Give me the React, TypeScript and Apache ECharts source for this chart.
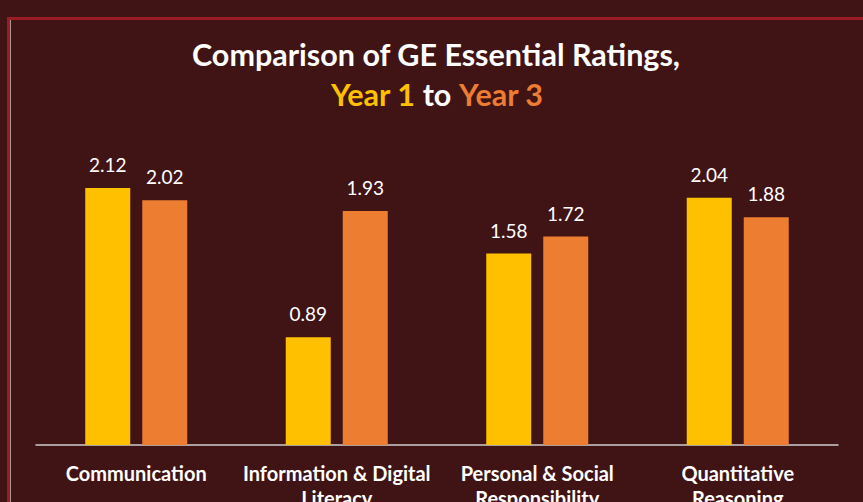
import React, { useEffect, useRef } from "react";
import * as echarts from "echarts";

const categories = [
  "Information & Digital\nLiteracy",
  "Personal & Social\nResponsibility",
  "Quantitative\nReasoning",
];
const allCategories = ["Communication", ...categories];
const year1 = [2.12, 0.89, 1.58, 2.04];
const year3 = [2.02, 1.93, 1.72, 1.88];
const seriesNames = ["Year 1", "Year 3"];
const titleLine1 = "Comparison of GE Essential Ratings,";

const BG = "#401415";
const YELLOW = "#FFC000";
const ORANGE = "#ED7D31";

export default function App() {
  const ref = useRef<HTMLDivElement>(null);
  useEffect(() => {
    const chart = echarts.init(ref.current!, null, { renderer: "svg" });
    const labelCfg = {
      show: true,
      position: "top",
      distance: 14,
      color: "#ffffff",
      fontFamily: "Lato",
      fontSize: 19,
    };
    chart.setOption({
      animation: false,
      backgroundColor: BG,
      grid: {
        left: 36,
        right: 25,
        top: 142,
        bottom: 57,
        containLabel: false,
        outerBoundsMode: "none",
      },
      xAxis: {
        type: "category",
        data: allCategories,
        axisLine: { show: true, lineStyle: { color: "#d0cccc", width: 1.5 } },
        axisTick: { show: false },
        axisLabel: {
          color: "#ffffff",
          fontFamily: "Lato",
          fontWeight: "bold",
          fontSize: 20,
          lineHeight: 25,
          margin: 15,
          interval: 0,
        },
      },
      yAxis: {
        type: "value",
        min: 0,
        max: 2.5,
        show: false,
        splitLine: { show: false },
      },
      series: [
        {
          name: seriesNames[0],
          type: "bar",
          data: year1,
          barWidth: 45,
          barGap: "26.7%",
          itemStyle: { color: YELLOW },
          label: labelCfg,
        },
        {
          name: seriesNames[1],
          type: "bar",
          data: year3,
          barWidth: 45,
          itemStyle: { color: ORANGE },
          label: labelCfg,
        },
      ],
      graphic: [
        { type: "rect", shape: { x: 7, y: 17, width: 870, height: 3 }, style: { fill: "#9b1c24" }, silent: true },
        { type: "rect", shape: { x: 7, y: 17, width: 3, height: 500 }, style: { fill: "#9b1c24" }, silent: true },
        { type: "rect", shape: { x: 10, y: 20, width: 1, height: 500 }, style: { fill: "#a89a9a" }, silent: true },
        {
          type: "text",
          x: 436,
          y: 54,
          style: {
            text: titleLine1,
            fill: "#ffffff",
            fontFamily: "Lato",
            fontWeight: "bold",
            fontSize: 30.5,
            textAlign: "center",
            textVerticalAlign: "middle",
          },
        },
        {
          type: "text",
          x: 437,
          y: 94,
          style: {
            text: "{a|" + seriesNames[0] + "} {w|to} {b|" + seriesNames[1] + "}",
            fontFamily: "Lato",
            fontWeight: "bold",
            fontSize: 30.5,
            textAlign: "center",
            textVerticalAlign: "middle",
            rich: {
              a: { fill: YELLOW, fontFamily: "Lato", fontWeight: "bold", fontSize: 30.5 },
              w: { fill: "#ffffff", fontFamily: "Lato", fontWeight: "bold", fontSize: 30.5 },
              b: { fill: ORANGE, fontFamily: "Lato", fontWeight: "bold", fontSize: 30.5 },
            },
          },
        },
      ],
    });
    return () => chart.dispose();
  }, []);
  return (
    <div
      ref={ref}
      style={{ position: "fixed", left: 0, top: 0, width: 863, height: 502, background: BG }}
    />
  );
}
